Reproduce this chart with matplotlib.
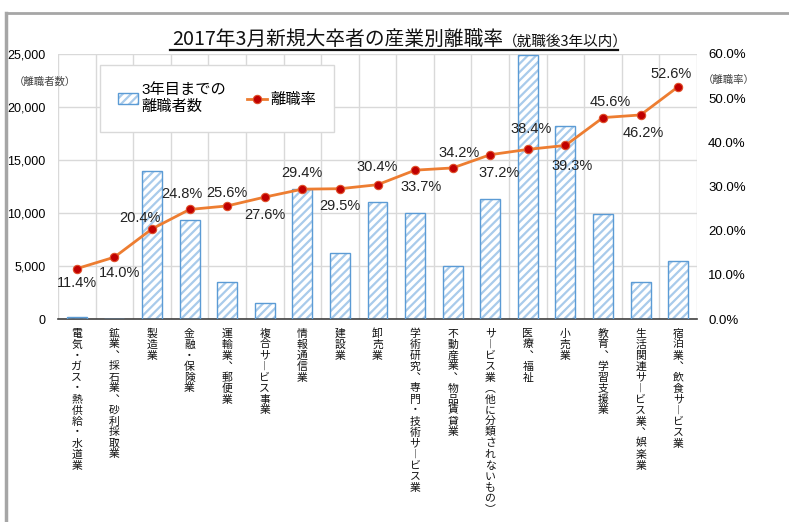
import matplotlib
matplotlib.use("Agg")
import matplotlib.pyplot as plt
from matplotlib.patches import Patch
from matplotlib.lines import Line2D
from matplotlib.ticker import FuncFormatter, MultipleLocator
import numpy as np

plt.rcParams['font.family'] = ['Liberation Sans', 'Noto Sans CJK JP']
plt.rcParams['hatch.linewidth'] = 1.6

# ── データ ─────────────────────────────
INDUSTRIES = [
    "電気・ガス・熱供給・水道業",
    "鉱業、採石業、砂利採取業",
    "製造業",
    "金融・保険業",
    "運輸業、郵便業",
    "複合サービス事業",
    "情報通信業",
    "建設業",
    "卸売業",
    "学術研究、専門・技術サービス業",
    "不動産業、物品賃貸業",
    "サービス業（他に分類されないもの）",
    "医療、福祉",
    "小売業",
    "教育、学習支援業",
    "生活関連サービス業、娯楽業",
    "宿泊業、飲食サービス業",
]
LEAVERS = [220, 40, 14000, 9340, 3520, 1480, 12240, 6200, 11040,
           9970, 4970, 11290, 24900, 18240, 9900, 3460, 5440]
RATES = [11.4, 14.0, 20.4, 24.8, 25.6, 27.6, 29.4, 29.5, 30.4,
         33.7, 34.2, 37.2, 38.4, 39.3, 45.6, 46.2, 52.6]

# ラベル位置のずらし（ピクセル、上が正）
LABEL_DX = [0, 5, -12, -8, 0, 0, 0, 0, 0, 6, 6, 9, 3, 7, 7, 3, -7]
LABEL_DY = [-14, -16, 11, 15, 13, -18, 16, -17, 18, -17, 15, -18, 20, -21, 16, -18, 13]

BAR_EDGE = "#5b9bd5"
BAR_HATCH = "#a9cbeb"
LINE_C = "#ed7d31"
MARK_C = "#c00000"

# 縦書き用の字形
VERT = {"ー": "︱", "（": "︵", "）": "︶", "、": "︑"}

W, H = 789, 522
fig = plt.figure(figsize=(W / 100, H / 100), dpi=100)
ax = fig.add_axes([58 / W, 1 - 319 / H, (697 - 58) / W, (319 - 54) / H])
ax2 = ax.twinx()

x = np.arange(len(INDUSTRIES))

# 棒（斜線＋枠）
ax.bar(x, LEAVERS, width=0.53, color="white", edgecolor=BAR_HATCH,
       hatch="////", linewidth=0, zorder=2)
ax.bar(x, LEAVERS, width=0.53, fill=False, edgecolor=BAR_EDGE,
       linewidth=1.0, zorder=3)

ax.set_xlim(-0.5, len(INDUSTRIES) - 0.5)
ax.set_ylim(0, 25000)
ax.yaxis.set_major_locator(MultipleLocator(5000))
ax.yaxis.set_major_formatter(FuncFormatter(lambda v, p: f"{int(v):,}"))
ax.set_xticks(x)
ax.set_xticklabels([])
ax.set_xticks(np.arange(len(INDUSTRIES) + 1) - 0.5, minor=True)
ax.tick_params(axis="x", which="both", length=0)
ax.tick_params(axis="y", length=0, pad=9, labelsize=9)
ax.grid(axis="y", color="#d9d9d9", lw=1.0, zorder=0)
ax.grid(axis="x", which="minor", color="#d9d9d9", lw=1.0, zorder=0)
ax.set_axisbelow(True)
for s in ["top", "left", "right"]:
    ax.spines[s].set_visible(False)
ax.spines["bottom"].set_color("#404040")
ax.spines["bottom"].set_linewidth(1.2)

# 縦書きの項目名（1文字ずつ等間隔に配置）
xt = ax.get_xaxis_transform()
for xi, name in zip(x, INDUSTRIES):
    for j, ch in enumerate(name):
        ax.annotate(VERT.get(ch, ch), (xi, 0), xycoords=xt,
                    xytext=(0, -14.5 - 11 * j), textcoords="offset pixels",
                    ha="center", va="center", fontsize=7.8,
                    family=["Noto Sans CJK JP"], color="#111111",
                    annotation_clip=False)

# 折れ線（離職率）
ax2.plot(x, RATES, color=LINE_C, lw=2.0, marker="o", ms=6,
         mfc=MARK_C, mec="#e0502a", mew=0.8, zorder=4)
ax2.set_ylim(0, 60)
ax2.yaxis.set_major_locator(MultipleLocator(10))
ax2.yaxis.set_major_formatter(FuncFormatter(lambda v, p: f"{v:.1f}%"))
ax2.tick_params(axis="y", length=0, pad=8, labelsize=9.5)
for s in ["top", "left", "right", "bottom"]:
    ax2.spines[s].set_visible(False)

for xi, r, dx, dy in zip(x, RATES, LABEL_DX, LABEL_DY):
    ax2.annotate(f"{r:.1f}%", (xi, r), xytext=(dx, dy),
                 textcoords="offset pixels", ha="center", va="center",
                 fontsize=10.5, color="#222222", zorder=5)

# 凡例
bar_h1 = Patch(facecolor="white", edgecolor=BAR_HATCH, hatch="////", lw=0)
bar_h2 = Patch(facecolor="none", edgecolor=BAR_EDGE, lw=1.0)
line_h = Line2D([], [], color=LINE_C, lw=2.0, marker="o", ms=6,
                mfc=MARK_C, mec="#e0502a", mew=0.8)
leg = ax2.legend([(bar_h1, bar_h2), line_h], ["3年目までの\n離職者数", "離職率"],
                 ncol=2, loc="upper left",
                 bbox_to_anchor=(100 / W, 1 - 65 / H),
                 bbox_transform=fig.transFigure, fontsize=11,
                 frameon=True, fancybox=False, edgecolor="#d9d9d9",
                 framealpha=1, borderpad=1.2, borderaxespad=0,
                 handlelength=1.3, handletextpad=0.2, columnspacing=1.4)
leg.get_frame().set_linewidth(1.0)
leg.set_zorder(10)

# 軸の単位
fig.text(45 / W, 1 - 82 / H, "（離職者数）", ha="center", va="center",
         fontsize=7.5, color="#404040")
fig.text(729 / W, 1 - 80 / H, "（離職率）", ha="center", va="center",
         fontsize=7.5, color="#404040")

# タイトル（下線付き）
fig.text(503 / W, 1 - 46 / H, "2017年3月新規大卒者の産業別離職率",
         ha="right", va="baseline", fontsize=14.2,
         family=["Noto Sans CJK JP"], color="#111111")
fig.text(503 / W, 1 - 46 / H, "（就職後3年以内）",
         ha="left", va="baseline", fontsize=10.5,
         family=["Noto Sans CJK JP"], color="#111111")
fig.add_artist(Line2D([170 / W, 618 / W], [1 - 50 / H, 1 - 50 / H],
                      transform=fig.transFigure, color="#111111", lw=1.6))

# 外枠
fig.add_artist(Line2D([6 / W, 1.0], [1 - 13 / H, 1 - 13 / H],
                      transform=fig.transFigure, color="#a6a6a6", lw=2.0))
fig.add_artist(Line2D([6 / W, 6 / W], [0, 1 - 13 / H],
                      transform=fig.transFigure, color="#a6a6a6", lw=2.5))

fig.savefig("out.png", dpi=100)
